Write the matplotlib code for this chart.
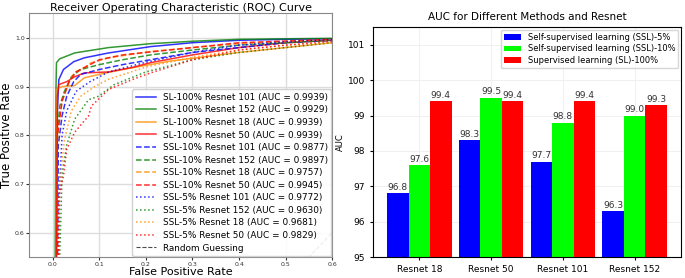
import matplotlib
matplotlib.use('Agg')
import matplotlib.pyplot as plt
import numpy as np

# ROC curves (fpr, tpr)
sl100_r101_fpr = [0, 0.008, 0.010, 0.013, 0.023, 0.045, 0.068, 0.12, 0.21, 0.3, 0.4, 0.5, 0.6, 1.0]
sl100_r101_tpr = [0, 0.5, 0.85, 0.914, 0.935, 0.951, 0.959, 0.969, 0.982, 0.99, 0.995, 0.997, 0.998, 1.0]
sl100_r152_fpr = [0, 0.005, 0.007, 0.008, 0.015, 0.026, 0.047, 0.12, 0.21, 0.3, 0.4, 0.6, 1.0]
sl100_r152_tpr = [0, 0.5, 0.9, 0.949, 0.957, 0.961, 0.969, 0.98, 0.988, 0.993, 0.997, 0.999, 1.0]
sl100_r18_fpr = [0, 0.006, 0.009, 0.02, 0.047, 0.06, 0.068, 0.1, 0.15, 0.25, 0.4, 0.5, 0.6, 1.0]
sl100_r18_tpr = [0, 0.5, 0.895, 0.9, 0.902, 0.912, 0.918, 0.925, 0.935, 0.952, 0.97, 0.98, 0.99, 1.0]
sl100_r50_fpr = [0, 0.007, 0.01, 0.013, 0.03, 0.047, 0.068, 0.12, 0.17, 0.21, 0.3, 0.4, 0.5, 0.6, 1.0]
sl100_r50_tpr = [0, 0.5, 0.88, 0.904, 0.91, 0.92, 0.928, 0.93, 0.939, 0.949, 0.965, 0.98, 0.99, 0.995, 1.0]

ssl10_r101_fpr = [0, 0.01, 0.012, 0.02, 0.03, 0.045, 0.06, 0.1, 0.15, 0.21, 0.3, 0.4, 0.5, 0.6, 1.0]
ssl10_r101_tpr = [0, 0.5, 0.78, 0.84, 0.88, 0.91, 0.925, 0.935, 0.945, 0.955, 0.97, 0.98, 0.99, 0.995, 1.0]
ssl10_r152_fpr = [0, 0.008, 0.01, 0.015, 0.025, 0.04, 0.06, 0.1, 0.15, 0.21, 0.3, 0.4, 0.5, 0.6, 1.0]
ssl10_r152_tpr = [0, 0.5, 0.8, 0.86, 0.89, 0.92, 0.935, 0.945, 0.955, 0.965, 0.975, 0.985, 0.99, 0.995, 1.0]
ssl10_r18_fpr = [0, 0.008, 0.01, 0.02, 0.035, 0.047, 0.07, 0.083, 0.12, 0.21, 0.3, 0.4, 0.6, 1.0]
ssl10_r18_tpr = [0, 0.5, 0.8, 0.87, 0.91, 0.929, 0.94, 0.949, 0.959, 0.972, 0.98, 0.988, 0.996, 1.0]
ssl10_r50_fpr = [0, 0.008, 0.01, 0.02, 0.035, 0.05, 0.07, 0.1, 0.15, 0.21, 0.3, 0.4, 0.6, 1.0]
ssl10_r50_tpr = [0, 0.5, 0.8, 0.87, 0.91, 0.93, 0.94, 0.955, 0.965, 0.971, 0.98, 0.99, 0.997, 1.0]

ssl5_r101_fpr = [0, 0.01, 0.015, 0.02, 0.03, 0.05, 0.08, 0.12, 0.2, 0.3, 0.4, 0.5, 0.6, 1.0]
ssl5_r101_tpr = [0, 0.45, 0.7, 0.8, 0.85, 0.89, 0.91, 0.93, 0.95, 0.97, 0.985, 0.992, 0.996, 1.0]
ssl5_r152_fpr = [0, 0.012, 0.02, 0.03, 0.047, 0.077, 0.098, 0.132, 0.2, 0.3, 0.4, 0.5, 0.6, 1.0]
ssl5_r152_tpr = [0, 0.45, 0.72, 0.78, 0.833, 0.873, 0.88, 0.904, 0.93, 0.955, 0.97, 0.98, 0.99, 1.0]
ssl5_r18_fpr = [0, 0.01, 0.015, 0.025, 0.04, 0.06, 0.09, 0.12, 0.2, 0.3, 0.4, 0.5, 0.6, 1.0]
ssl5_r18_tpr = [0, 0.45, 0.7, 0.79, 0.85, 0.88, 0.9, 0.915, 0.94, 0.96, 0.975, 0.985, 0.99, 1.0]
ssl5_r50_fpr = [0, 0.012, 0.013, 0.023, 0.03, 0.047, 0.077, 0.083, 0.12, 0.17, 0.21, 0.3, 0.4, 0.5, 0.6, 1.0]
ssl5_r50_tpr = [0, 0.4, 0.676, 0.716, 0.771, 0.806, 0.84, 0.86, 0.894, 0.914, 0.928, 0.955, 0.975, 0.985, 0.993, 1.0]

# bar chart data
models = ['Resnet 18', 'Resnet 50', 'Resnet 101', 'Resnet 152']
auc_ssl5 = [96.8, 98.3, 97.7, 96.3]
auc_ssl10 = [97.6, 99.5, 98.8, 99.0]
auc_sl100 = [99.4, 99.4, 99.4, 99.3]

fig = plt.figure(figsize=(6.85, 2.78), dpi=100)
ax1 = fig.add_axes([0.043, 0.0755, 0.442, 0.876])
ax2 = fig.add_axes([0.5445, 0.0755, 0.4496, 0.827])

# left: ROC curves
curves = [
    (sl100_r101_fpr, sl100_r101_tpr, 'blue', '-', 'SL-100% Resnet 101 (AUC = 0.9939)'),
    (sl100_r152_fpr, sl100_r152_tpr, 'green', '-', 'SL-100% Resnet 152 (AUC = 0.9929)'),
    (sl100_r18_fpr, sl100_r18_tpr, 'darkorange', '-', 'SL-100% Resnet 18 (AUC = 0.9939)'),
    (sl100_r50_fpr, sl100_r50_tpr, 'red', '-', 'SL-100% Resnet 50 (AUC = 0.9939)'),
    (ssl10_r101_fpr, ssl10_r101_tpr, 'blue', '--', 'SSL-10% Resnet 101 (AUC = 0.9877)'),
    (ssl10_r152_fpr, ssl10_r152_tpr, 'green', '--', 'SSL-10% Resnet 152 (AUC = 0.9897)'),
    (ssl10_r18_fpr, ssl10_r18_tpr, 'darkorange', '--', 'SSL-10% Resnet 18 (AUC = 0.9757)'),
    (ssl10_r50_fpr, ssl10_r50_tpr, 'red', '--', 'SSL-10% Resnet 50 (AUC = 0.9945)'),
    (ssl5_r101_fpr, ssl5_r101_tpr, 'blue', ':', 'SSL-5% Resnet 101 (AUC = 0.9772)'),
    (ssl5_r152_fpr, ssl5_r152_tpr, 'green', ':', 'SSL-5% Resnet 152 (AUC = 0.9630)'),
    (ssl5_r18_fpr, ssl5_r18_tpr, 'darkorange', ':', 'SSL-5% Resnet 18 (AUC = 0.9681)'),
    (ssl5_r50_fpr, ssl5_r50_tpr, 'red', ':', 'SSL-5% Resnet 50 (AUC = 0.9829)'),
]
for fpr, tpr, c, ls, lab in curves:
    ax1.plot(fpr, tpr, color=c, linestyle=ls, lw=1.1, alpha=0.8, label=lab)
ax1.plot([0, 1], [0, 1], 'k--', lw=0.8, alpha=0.7, label='Random Guessing')

ax1.set_xlim(-0.05, 0.6)
ax1.set_ylim(0.55, 1.05)
ax1.set_xticks([0, 0.1, 0.2, 0.3, 0.4, 0.5, 0.6])
ax1.set_yticks([0.6, 0.7, 0.8, 0.9, 1.0])
ax1.tick_params(labelsize=4.5, length=2, pad=1.5, colors='#333333')
ax1.set_xlabel('False Positive Rate', fontsize=8, labelpad=0)
ax1.set_ylabel('True Positive Rate', fontsize=8.5, labelpad=1)
ax1.set_title('Receiver Operating Characteristic (ROC) Curve', fontsize=8, pad=2)
ax1.grid(True, color='#dddddd', lw=1)
for s in ax1.spines.values():
    s.set_color('#888888')
ax1.legend(loc='lower right', fontsize=6.4, labelspacing=0.4, handlelength=2.2,
           borderaxespad=0.1, framealpha=0.9)

# right: AUC bars
x = np.arange(len(models))
w = 0.3
b1 = ax2.bar(x - w, auc_ssl5, w, color='blue', label='Self-supervised learning (SSL)-5%')
b2 = ax2.bar(x, auc_ssl10, w, color='#00ff00', label='Self-supervised learning (SSL)-10%')
b3 = ax2.bar(x + w, auc_sl100, w, color='red', label='Supervised learning (SL)-100%')
for bars in (b1, b2, b3):
    ax2.bar_label(bars, fmt='%.1f', fontsize=6.5, color='#333333', padding=1)

ax2.set_ylim(95, 101.5)
ax2.set_xticks(x)
ax2.set_xticklabels(models)
ax2.tick_params(labelsize=6.5, length=2)
ax2.set_ylabel('AUC', fontsize=6, labelpad=2)
ax2.set_title('AUC for Different Methods and Resnet', fontsize=7.5, pad=5)
ax2.grid(True, color='#eeeeee', lw=0.6)
ax2.set_axisbelow(True)
ax2.legend(loc='upper right', fontsize=6, borderaxespad=0.3, labelspacing=0.3)

fig.savefig('out.png', dpi=100)
